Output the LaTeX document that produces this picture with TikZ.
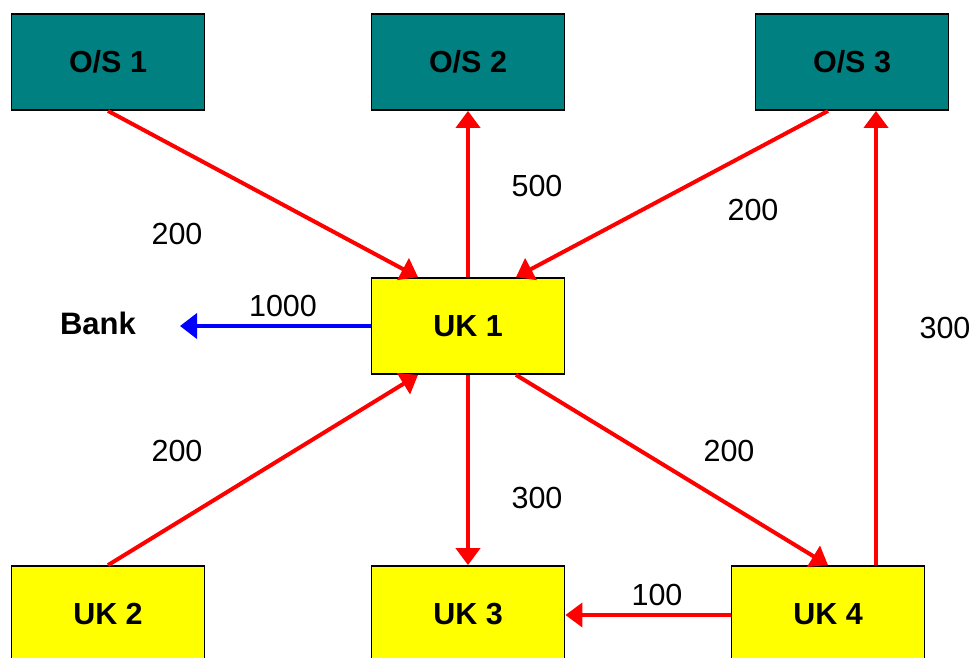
\documentclass[tikz,border=0pt]{standalone}
\usepackage{fontspec}
\setmainfont{Liberation Sans}
\usetikzlibrary{arrows.meta}
\definecolor{teal}{HTML}{008080}
\definecolor{ylw}{HTML}{FFFF00}
\definecolor{rd}{HTML}{FF0000}
\definecolor{bl}{HTML}{0000FF}
\tikzset{
  box/.style={draw=black, line width=1.8pt, minimum width=193pt, minimum height=96pt, inner sep=0pt,
    font=\fontsize{30.5}{35}\selectfont\bfseries},
  osbox/.style={box, fill=teal},
  ukbox/.style={box, fill=ylw},
  lbl/.style={inner sep=0pt, font=\fontsize{30.5}{35}\selectfont},
  flow/.style={draw=rd, line width=4pt, -{Triangle[length=17pt,width=24pt]}},
  bflow/.style={draw=bl, line width=4pt, -{Triangle[length=17pt,width=25pt]}}
}
\begin{document}
\begin{tikzpicture}[x=1pt,y=-1pt]
\clip (0,0) rectangle (974,657);
\fill[white] (0,0) rectangle (974,657);
\node[osbox] (os1) at (108,62) {O/S 1};
\node[osbox] (os2) at (468,62) {O/S 2};
\node[osbox] (os3) at (852,62) {O/S 3};
\node[ukbox] (uk1) at (468,326) {UK 1};
\node[ukbox] (uk2) at (108,614) {UK 2};
\node[ukbox] (uk3) at (468,614) {UK 3};
\node[ukbox] (uk4) at (828,614) {UK 4};
\node[inner sep=0pt, font=\fontsize{31}{36}\selectfont\bfseries] (bank) at (98,323) {Bank};
\coordinate (banktip) at (180,326);

\draw[flow] (os1.south) -- ([xshift=-50pt]uk1.north);
\draw[flow] (uk1.north) -- (os2.south);
\draw[flow] ([xshift=-24pt]os3.south) -- ([xshift=48pt]uk1.north);
\draw[flow] (uk2.north) -- ([xshift=-50pt]uk1.south);
\draw[flow] (uk1.south) -- (uk3.north);
\draw[flow] ([xshift=48pt]uk1.south) -- (uk4.north);
\draw[flow] ([xshift=48pt]uk4.north) -- ([xshift=24pt]os3.south);
\draw[flow] ([yshift=-1pt]uk4.west) -- ([yshift=-1pt]uk3.east);
\draw[bflow] (uk1.west) -- (banktip);

\node[lbl] (l1) at (177,234) {200};
\node[lbl] (l2) at (537,186) {500};
\node[lbl] (l3) at (753,210) {200};
\node[lbl] (l4) at (283,306) {1000};
\node[lbl] (l5) at (945,328) {300};
\node[lbl] (l6) at (177,451) {200};
\node[lbl] (l7) at (537,498) {300};
\node[lbl] (l8) at (729,451) {200};
\node[lbl] (l9) at (657,595) {100};
\end{tikzpicture}
\end{document}
